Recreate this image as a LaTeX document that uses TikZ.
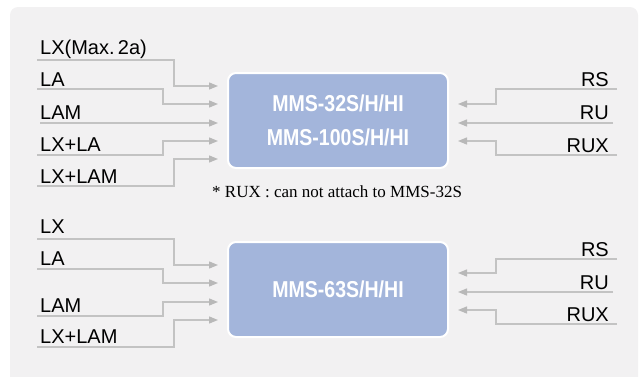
\documentclass[tikz,border=0pt]{standalone}
\usepackage{fontspec}
\setmainfont{Liberation Sans}
\newfontfamily\boxfont[FakeStretch=0.85]{Liberation Sans}
\newfontfamily\notefont{Liberation Serif}
\usetikzlibrary{arrows.meta}
\definecolor{bgc}{HTML}{F2F1F2}
\definecolor{boxc}{HTML}{A3B5DB}
\definecolor{linec}{HTML}{C3C3C3}
\definecolor{tipc}{HTML}{B8B8B8}
\tikzset{
  conn/.style={draw=linec, line width=1.3pt, -{Triangle[length=9pt,width=7pt,color=tipc]}, shorten >=9pt},
  lab/.style={font=\fontsize{20}{24}\selectfont, inner sep=0pt, anchor=base west, text=black},
  rlab/.style={font=\fontsize{20}{24}\selectfont, inner sep=0pt, anchor=base east, text=black},
  mbox/.style={rectangle, rounded corners=8pt, fill=boxc, draw=white, line width=2pt,
    minimum width=220pt, minimum height=95pt, text=white, inner sep=0pt,
    font=\boxfont\bfseries\fontsize{23}{34}\selectfont, align=center},
  note/.style={font=\notefont\fontsize{17}{20}\selectfont, inner sep=0pt, anchor=base west}
}
\begin{document}
\begin{tikzpicture}[x=1pt,y=-1pt]
\useasboundingbox (0,0) rectangle (641,376);
\begin{scope}
\clip (0,0) rectangle (641,376);
\fill[bgc, rounded corners=8pt] (10,7) rectangle (638,400);
\end{scope}

% boxes
\node[mbox] (b1) at (338,120.5) {MMS-32S/H/HI\\MMS-100S/H/HI};
\node[mbox] (b2) at (338,289.5) {MMS-63S/H/HI};
\node[note] (nt) at (212,197) {* RUX : can not attach to MMS-32S};

% left labels, box 1
\node[lab] (a1) at (40,54) {LX(Max.\,2a)};
\node[lab] (a2) at (40,86) {LA};
\node[lab] (a3) at (40,119) {LAM};
\node[lab] (a4) at (40,151) {LX+LA};
\node[lab] (a5) at (40,183) {LX+LAM};
% right labels, box 1
\node[rlab] (r1) at (609,86) {RS};
\node[rlab] (r2) at (609,119) {RU};
\node[rlab] (r3) at (609,152) {RUX};
% left labels, box 2
\node[lab] (c1) at (40,233) {LX};
\node[lab] (c2) at (40,265) {LA};
\node[lab] (c3) at (40,312) {LAM};
\node[lab] (c4) at (40,343) {LX+LAM};
% right labels, box 2
\node[rlab] (t1) at (609,256) {RS};
\node[rlab] (t2) at (609,289) {RU};
\node[rlab] (t3) at (609,321) {RUX};

% connectors box 1, left
\draw[conn] ([shift={(-3,6)}]a1.base west) -| (174,86) -- (b1.west |- 0,86);
\draw[conn] ([shift={(-3,3)}]a2.base west) -| (163,104) -- (b1.west |- 0,104);
\draw[conn] ([shift={(0,4)}]a3.base west) -- (b1.west |- 0,123);
\draw[conn] ([shift={(-3,4)}]a4.base west) -| (163,141) -- (b1.west |- 0,141);
\draw[conn] ([shift={(-3,3)}]a5.base west) -| (174,159) -- (b1.west |- 0,159);
% connectors box 1, right
\draw[conn] ([shift={(8,3)}]r1.base east) -| (496,104) -- (b1.east |- 0,104);
\draw[conn] ([shift={(4,4)}]r2.base east) -- (b1.east |- 0,123);
\draw[conn] ([shift={(8,3)}]r3.base east) -| (496,141) -- (b1.east |- 0,141);
% connectors box 2, left
\draw[conn] ([shift={(-3,6)}]c1.base west) -| (174,265) -- (b2.west |- 0,265);
\draw[conn] ([shift={(-3,4)}]c2.base west) -| (163,283) -- (b2.west |- 0,283);
\draw[conn] ([shift={(-3,4)}]c3.base west) -| (163,302) -- (b2.west |- 0,302);
\draw[conn] ([shift={(-3,4)}]c4.base west) -| (174,320) -- (b2.west |- 0,320);
% connectors box 2, right
\draw[conn] ([shift={(8,3)}]t1.base east) -| (496,273) -- (b2.east |- 0,273);
\draw[conn] ([shift={(4,3)}]t2.base east) -- (b2.east |- 0,292);
\draw[conn] ([shift={(8,3)}]t3.base east) -| (496,310) -- (b2.east |- 0,310);
\end{tikzpicture}
\end{document}
